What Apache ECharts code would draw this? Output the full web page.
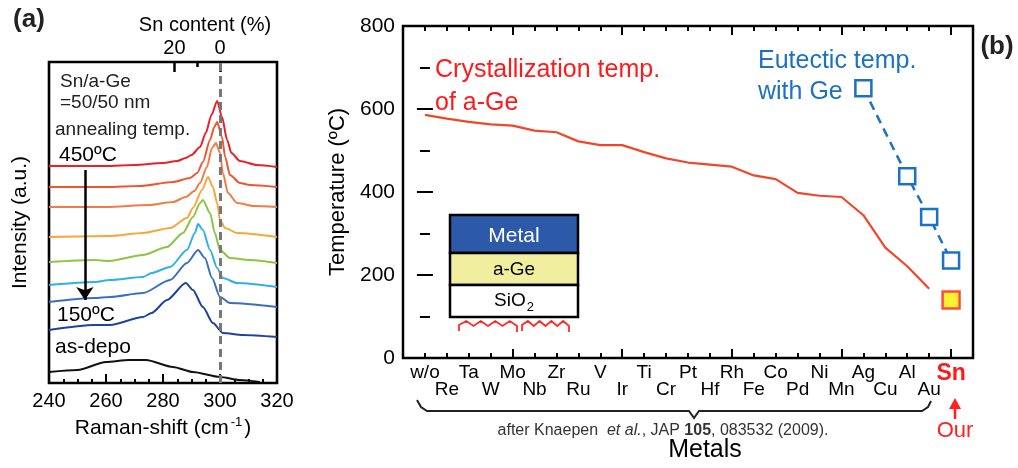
<!DOCTYPE html>
<html>
<head>
<meta charset="utf-8">
<title>Sn/a-Ge crystallization</title>
<script src="https://cdn.jsdelivr.net/npm/echarts@6/dist/echarts.min.js"></script>
<style>
html, body { margin: 0; padding: 0; background: #fff; }
#main { width: 1018px; height: 468px; }
</style>
</head>
<body>
<div id="main"></div>
<script>
// (a) Raman spectra, points are [Raman-shift (cm-1), intensity (a.u., stacked)]
var spec1 = [[240,217],[250,217],[260,217],[270,218],[280,220],[285,222],[288,225],[290,228],[293,236],[295,250],[297,268],[299,282],[300.7,266],[302.5,243],[304,230],[307,222],[313,218],[320,216]];
var spec2 = [[240,196],[260,196],[272,197],[283.5,201],[289.5,205],[292,210],[294,221],[296.5,243],[298,256],[299,261],[300.7,246],[301.8,226],[303.5,208],[307,200],[310.5,198],[320,196]];
var spec3 = [[240,176],[260,176],[275,178],[283.5,181],[288,186],[291,192],[293,200],[295.4,216],[297.2,235],[298.6,240],[300,230],[301,210],[302.8,190],[306,180],[312,177],[320,176]];
var spec4 = [[240,146],[261,147],[273,150],[282.5,155],[288.4,165],[290.5,175],[293.7,193],[295.8,206],[297.5,196],[299,180],[300,163],[301.8,155],[306,150],[320,146]];
var spec5 = [[240,121],[256,123],[261,122],[273,128],[281.4,136],[287,150],[290.5,166],[293,180],[294,183],[296.5,170],[298.2,150],[300,133],[303.5,125],[310.5,123],[320,120]];
var spec6 = [[240,98],[256,101],[261.4,103],[273,106],[276,110],[282.5,116],[288.4,133],[291.2,150],[292.3,159],[294,153],[296.5,133],[299,115],[301,105],[306,100],[320,96]];
var spec7 = [[240,81],[256,85],[261.4,86],[273,90],[282.5,103],[288.4,120],[292.3,133],[294.7,125],[297.2,105],[300,86],[303.5,80],[320,76]];
var spec8 = [[240,53],[256,58],[261.4,58],[273,66],[276,70],[281.4,83],[288,100],[290.5,93],[294,76],[297.5,60],[301,50],[308,48],[320,46]];
var specAsDepo = [[240,11],[250,13],[260,21],[268,23],[274,23],[283.5,16],[290.5,11],[300,6],[307,3],[314,1]];
var snContentTicks = [284, 300];
var snContentMinor = [292];
var snContentLabels = { 284: '20', 300: '0' };
var geLine = 300;                       // c-Ge peak, 0 % Sn
var arrowFrom = [252.6, 213], arrowTo = [252.6, 83];

// (b) temperatures (°C)
var metals = ['w/o','Re','Ta','W','Mo','Nb','Zr','Ru','V','Ir','Ti','Cr','Pt','Hf','Rh','Fe','Co','Pd','Ni','Mn','Ag','Cu','Al','Au','Sn'];
var crystTemp = [586,577,569,563,560,548,544,522,513,513,496,481,471,466,461,440,431,398,391,388,344,266,221,167];
var eutecticMetals = ['Ag','Al','Au','Sn'];
var eutecticTemp = [650,438,340,235];
var ourMetal = 'Sn';
var ourTemp = 140;

var specColors = ['#e8202a','#f0552d','#f47a45','#f7a63b','#8cc540','#2eb0ea','#3b6ec0','#1d429f','#111111'];
var font = "'Liberation Sans', Arial, sans-serif";

var chart = echarts.init(document.getElementById('main'));

function tick(len, w) {
  return { show: true, inside: true, length: len, lineStyle: { color: '#000', width: w || 2 } };
}
function txt(text, x, y, size, color, o) {
  o = o || {};
  return {
    type: 'text', x: x, y: y, z: 20,
    style: {
      text: text, fill: color || '#000', fontSize: size, fontFamily: font,
      fontWeight: o.bold ? 'bold' : 'normal', fontStyle: o.italic ? 'italic' : 'normal',
      align: o.align || 'left', verticalAlign: 'middle', rich: o.rich
    }
  };
}
// red heater zigzag under the inset
function heater(x0, x1) {
  var pts = [[x0, 331], [x0, 325]];
  var n = 8, step = (x1 - x0) / n;
  for (var i = 1; i <= n; i++) pts.push([x0 + i * step, i % 2 ? 321 : 326]);
  pts.push([x1, 332]);
  return pts;
}

var specs = [spec1, spec2, spec3, spec4, spec5, spec6, spec7, spec8, specAsDepo];
var series = specs.map(function (d, i) {
  return {
    type: 'line', xAxisIndex: 0, yAxisIndex: 0, data: d,
    symbol: 'none', smooth: 0.25, smoothMonotone: 'x',
    lineStyle: { color: specColors[i], width: 2 }, z: 3
  };
});
// dashed 0 % line and the annealing arrow
series[8].markLine = {
  silent: true, symbol: 'none', label: { show: false },
  lineStyle: { color: '#777', width: 3, type: [8, 5] },
  data: [{ xAxis: geLine }]
};
series[0].markLine = {
  silent: true, symbol: ['none', 'arrow'], symbolSize: 13, label: { show: false },
  lineStyle: { color: '#000', width: 2.5, type: 'solid' },
  data: [[{ coord: arrowFrom }, { coord: arrowTo }]]
};

series.push({
  name: 'Crystallization', type: 'line', xAxisIndex: 3, yAxisIndex: 1,
  data: crystTemp.map(function (v, i) { return [i, v]; }),
  symbol: 'none', lineStyle: { color: '#f2462b', width: 2.2 }
});
series.push({
  name: 'Eutectic', type: 'line', xAxisIndex: 3, yAxisIndex: 1,
  data: eutecticMetals.map(function (m, i) { return [metals.indexOf(m), eutecticTemp[i]]; }),
  symbol: 'rect', symbolSize: 16, showSymbol: true,
  itemStyle: { color: '#fff', borderColor: '#1b72c4', borderWidth: 2.5 },
  lineStyle: { color: '#1b72c4', width: 2.5, type: [9, 6] }
});
series.push({
  name: 'Our', type: 'scatter', xAxisIndex: 3, yAxisIndex: 1,
  data: [[metals.indexOf(ourMetal), ourTemp]],
  symbol: 'rect', symbolSize: 17,
  itemStyle: { color: '#ffee00', borderColor: '#ff2020', borderWidth: 2.5 }
});

var option = {
  animation: false,
  backgroundColor: '#fff',
  textStyle: { fontFamily: font },
  grid: [
    { left: 49, top: 62, width: 228, height: 321, show: true, borderColor: '#000', borderWidth: 2.6, backgroundColor: 'transparent' },
    { left: 403, top: 26, width: 570, height: 340, show: true, borderColor: '#000', borderWidth: 2.5, backgroundColor: 'transparent' }
  ],
  xAxis: [
    { // Raman-shift
      type: 'value', gridIndex: 0, position: 'bottom', min: 240, max: 320, interval: 20,
      axisLine: { show: false }, splitLine: { show: false },
      axisTick: tick(9), minorTick: { show: true, splitNumber: 4, length: 4, lineStyle: { color: '#000', width: 2 } },
      axisLabel: { fontSize: 20, color: '#000', margin: 8 },
      name: '{n|Raman-shift (cm}{sup|-1}{n|)}', nameLocation: 'middle', nameGap: 29,
      nameTextStyle: { rich: { n: { fontSize: 21, color: '#000', lineHeight: 24 }, sup: { fontSize: 13, color: '#000', verticalAlign: 'top', lineHeight: 24, padding: [0, 2, 8, 2] } } }
    },
    { // Sn content, long ticks
      type: 'value', gridIndex: 0, position: 'top', min: 240, max: 320,
      axisLine: { show: false }, splitLine: { show: false },
      axisTick: { show: true, inside: true, length: 10, customValues: snContentTicks, lineStyle: { color: '#000', width: 2.5 } },
      axisLabel: { fontSize: 20, color: '#000', margin: 4, customValues: snContentTicks, formatter: function (v) { return snContentLabels[v] || ''; } }
    },
    { // Sn content, short tick
      type: 'value', gridIndex: 0, position: 'top', min: 240, max: 320,
      axisLine: { show: false }, splitLine: { show: false },
      axisTick: { show: true, inside: true, length: 5, customValues: snContentMinor, lineStyle: { color: '#000', width: 2.5 } },
      axisLabel: { show: false }
    },
    { // metals
      type: 'value', gridIndex: 1, position: 'bottom', min: -1, max: 25, interval: 1,
      axisLine: { show: false }, splitLine: { show: false },
      axisTick: tick(5),
      axisLabel: {
        fontSize: 19, color: '#000', margin: 6, lineHeight: 17,
        formatter: function (v) {
          var i = Math.round(v);
          if (i < 0 || i >= metals.length) return '';
          if (metals[i] === ourMetal) return '{sn|' + metals[i] + '}';
          return i % 2 ? '\n' + metals[i] : metals[i];
        },
        rich: { sn: { fontSize: 23, fontWeight: 'bold', color: '#ff1a1a', lineHeight: 20 } }
      },
      name: 'Metals', nameLocation: 'middle', nameGap: 80,
      nameTextStyle: { fontSize: 25, color: '#000', padding: [0, 0, 0, 34] }
    },
    { // metals, major ticks every 5 counted from min
      type: 'value', gridIndex: 1, position: 'bottom', min: -1, max: 25, interval: 5,
      axisLine: { show: false }, splitLine: { show: false },
      axisTick: tick(9), axisLabel: { show: false }
    },
    {
      type: 'value', gridIndex: 1, position: 'top', min: -1, max: 25, interval: 1,
      axisLine: { show: false }, splitLine: { show: false },
      axisTick: tick(5), axisLabel: { show: false }
    },
    {
      type: 'value', gridIndex: 1, position: 'top', min: -1, max: 25, interval: 5,
      axisLine: { show: false }, splitLine: { show: false },
      axisTick: tick(9), axisLabel: { show: false }
    }
  ],
  yAxis: [
    {
      type: 'value', gridIndex: 0, min: 0, max: 321,
      axisLine: { show: false }, splitLine: { show: false }, axisTick: { show: false }, axisLabel: { show: false },
      name: 'Intensity (a.u.)', nameLocation: 'middle', nameGap: 18,
      nameTextStyle: { fontSize: 21, color: '#000' }
    },
    {
      type: 'value', gridIndex: 1, position: 'left', min: 0, max: 800, interval: 200,
      axisLine: { show: false }, splitLine: { show: false },
      axisTick: tick(8), minorTick: { show: true, splitNumber: 2, length: 5, lineStyle: { color: '#000', width: 2 } },
      axisLabel: { fontSize: 21, color: '#000', margin: 8 },
      name: 'Temperature (ºC)', nameLocation: 'middle', nameGap: 46,
      nameTextStyle: { fontSize: 22, color: '#000' }
    },
    {
      type: 'value', gridIndex: 1, position: 'right', min: 0, max: 800, interval: 200,
      axisLine: { show: false }, splitLine: { show: false },
      axisTick: tick(8), minorTick: { show: true, splitNumber: 2, length: 5, lineStyle: { color: '#000', width: 2 } },
      axisLabel: { show: false }
    }
  ],
  series: series,
  graphic: [
    // panel (a) text
    txt('(a)', 29, 20, 26, '#222', { bold: true, align: 'center' }),
    txt('Sn content (%)', 205, 25, 20, '#000', { align: 'center' }),
    txt('Sn/a-Ge', 60, 82, 19, '#222'),
    txt('=50/50 nm', 60, 103, 19, '#222'),
    txt('annealing temp.', 55, 130, 19, '#222'),
    txt('450ºC', 59, 155, 21, '#000'),
    txt('150ºC', 57, 315, 21, '#000'),
    txt('as-depo', 55, 347, 21, '#000'),

    // panel (b) text
    txt('(b)', 997, 47, 26, '#222', { bold: true, align: 'center' }),
    txt('Crystallization temp.', 435, 70, 25, '#ff1a1a'),
    txt('of a-Ge', 435, 103, 25, '#ff1a1a'),
    txt('Eutectic temp.', 758, 61, 25, '#1b72c4'),
    txt('with Ge', 758, 92, 25, '#1b72c4'),

    // inset: Metal / a-Ge / SiO2 stack
    { type: 'rect', z: 15, shape: { x: 450, y: 215, width: 128, height: 38 }, style: { fill: '#2c5aa8', stroke: '#000', lineWidth: 2.5 } },
    { type: 'rect', z: 15, shape: { x: 450, y: 253, width: 128, height: 32 }, style: { fill: '#f2eea0', stroke: '#000', lineWidth: 2.5 } },
    { type: 'rect', z: 15, shape: { x: 450, y: 285, width: 128, height: 32 }, style: { fill: '#fff', stroke: '#000', lineWidth: 2.5 } },
    txt('Metal', 514, 236, 21, '#fff', { align: 'center' }),
    txt('a-Ge', 514, 270, 19, '#000', { align: 'center' }),
    txt('{n|SiO}{s|2}', 514, 301, 19, '#000', { align: 'center', rich: {
      n: { fontSize: 19, lineHeight: 26 },
      s: { fontSize: 13, lineHeight: 26, verticalAlign: 'bottom', padding: [0, 0, 0, 1] } } }),
    { type: 'polyline', z: 15, shape: { points: heater(459, 517) }, style: { stroke: '#ff2a2a', lineWidth: 1.8, fill: null } },
    { type: 'polyline', z: 15, shape: { points: heater(522, 569) }, style: { stroke: '#ff2a2a', lineWidth: 1.8, fill: null } },

    // brace under the literature metals
    { type: 'polyline', z: 15, shape: { points: [[417, 400], [421, 407], [427, 411], [689, 411], [694, 418], [699, 411], [922, 411], [928, 407], [931, 401]] },
      style: { stroke: '#222', lineWidth: 2, fill: null } },
    txt('{n|after Knaepen }{i| et al.}{n|, JAP }{b|105}{n|, 083532 (2009).}', 663, 431, 16, '#333', { align: 'center', rich: {
      n: { fontSize: 16, color: '#333' },
      i: { fontSize: 16, color: '#333', fontStyle: 'italic' },
      b: { fontSize: 16, color: '#333', fontWeight: 'bold' } } }),

    // "Our" marker under Sn
    { type: 'line', z: 15, shape: { x1: 955, y1: 419, x2: 955, y2: 406 }, style: { stroke: '#ff2020', lineWidth: 2.5 } },
    { type: 'polygon', z: 15, shape: { points: [[949, 409], [955, 398], [961, 409]] }, style: { fill: '#ff2020' } },
    txt('Our', 955, 431, 22, '#ff2020', { align: 'center' })
  ]
};

chart.setOption(option);
</script>
</body>
</html>
